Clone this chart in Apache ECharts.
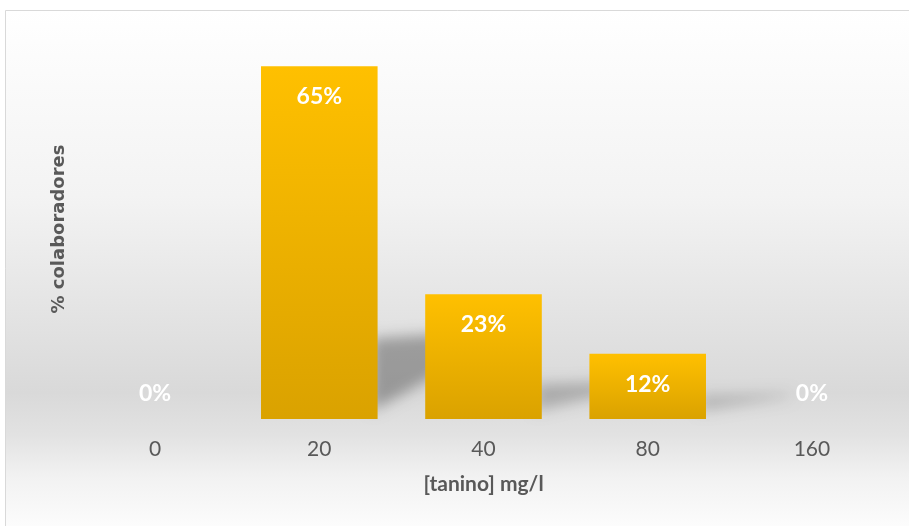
<!DOCTYPE html>
<html>
<head>
<meta charset="utf-8">
<script src="https://cdn.jsdelivr.net/npm/echarts@6/dist/echarts.min.js"></script>
<style>
  html, body { margin: 0; padding: 0; background: #fff; }
  #chart { width: 909px; height: 526px; }
</style>
</head>
<body>
<div id="chart"></div>
<script>
// tannin concentration (mg/l) and share of collaborators (%)
const categories = ['0', '20', '40', '80', '160'];
const percentages = [0, 65, 23, 12, 0];

const xAxisName = '[tanino] mg/l';
const yAxisName = '% colaboradores';

const chart = echarts.init(document.getElementById('chart'), null, { renderer: 'canvas' });

const barGradient = new echarts.graphic.LinearGradient(0, 0, 0, 1, [
  { offset: 0, color: '#FFC000' },
  { offset: 1, color: '#DAA200' }
]);

// soft perspective shadow cast behind each bar, built from the bar value.
// the solid shape sits off-canvas; only its blurred canvas shadow lands on the chart
const OFF = 1200;
const renderShadow = (params, api) => {
  const idx = api.value(0);
  const val = api.value(1);
  if (!val) return null;
  const base = api.coord([idx, 0]);
  const top = api.coord([idx, val]);
  const band = api.size([1, 0])[0] * 0.71;
  const xr = base[0] + band / 2 - 6;
  const y0 = base[1] - OFF;
  const h = (base[1] - top[1]) * 0.2 + 10;
  const k = Math.min(h / 80, 1);
  const run = 90;
  return {
    type: 'polygon',
    shape: {
      points: [
        [xr, y0 - 8],
        [xr, y0 - h],
        [xr + run, y0 - h - 6 * k],
        [xr + run, y0 - 8 - run * 0.55 * k]
      ]
    },
    style: {
      fill: '#000',
      shadowBlur: 14,
      shadowColor: 'rgba(0,0,0,' + (0.14 + 0.16 * k).toFixed(3) + ')',
      shadowOffsetX: 0,
      shadowOffsetY: OFF
    }
  };
};

const option = {
  animation: false,
  graphic: [
    {
      type: 'rect',
      z: -100,
      silent: true,
      shape: { x: 5.5, y: 10.5, width: 920, height: 530 },
      style: {
        fill: new echarts.graphic.LinearGradient(0, 0, 0, 1, [
          { offset: 0, color: '#ffffff' },
          { offset: 0.35, color: '#f3f3f3' },
          { offset: 0.72, color: '#d9d9d9' },
          { offset: 0.8, color: '#e2e2e2' },
          { offset: 0.88, color: '#f2f2f2' },
          { offset: 1, color: '#ffffff' }
        ]),
        stroke: '#d9d9d9',
        lineWidth: 1
      }
    }
  ],
  grid: { left: 73, right: 15, top: 39, bottom: 107 },
  xAxis: {
    type: 'category',
    data: categories,
    axisLine: { show: false },
    axisTick: { show: false },
    axisLabel: {
      margin: 20,
      fontFamily: 'Lato',
      fontSize: 21,
      color: '#595959'
    },
    name: xAxisName,
    nameLocation: 'middle',
    nameGap: 55,
    nameTextStyle: {
      fontFamily: 'Lato',
      fontWeight: 'bold',
      fontSize: 21,
      color: '#595959'
    }
  },
  yAxis: {
    type: 'value',
    min: 0,
    max: 70,
    axisLine: { show: false },
    axisTick: { show: false },
    axisLabel: { show: false },
    splitLine: { show: false },
    name: yAxisName,
    nameLocation: 'middle',
    nameGap: 5,
    nameTextStyle: {
      fontFamily: 'DejaVu Sans',
      fontWeight: 'bold',
      fontSize: 18,
      color: '#595959'
    }
  },
  series: [
    {
      type: 'custom',
      z: 1,
      silent: true,
      clip: false,
      renderItem: renderShadow,
      data: percentages.map((v, i) => [i, v])
    },
    {
      type: 'bar',
      z: 3,
      barCategoryGap: '29%',
      itemStyle: { color: barGradient },
      data: percentages.map((v) => ({
        value: v,
        label: v === 0
          ? { position: 'top', distance: 14 }
          : { position: 'insideTop', distance: 19 }
      })),
      label: {
        show: true,
        formatter: '{c}%',
        color: '#ffffff',
        fontFamily: 'Lato',
        fontWeight: 'bold',
        fontSize: 23
      }
    }
  ]
};

chart.setOption(option);
</script>
</body>
</html>
